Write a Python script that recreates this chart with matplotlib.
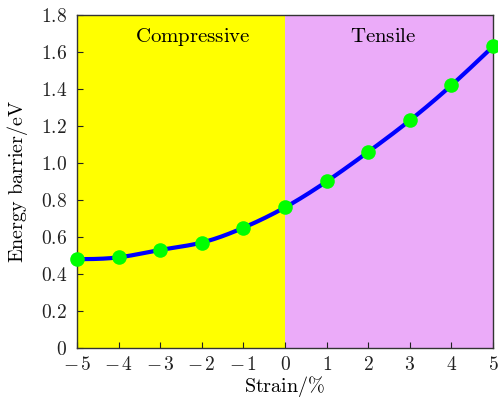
import numpy as np
import matplotlib
matplotlib.use("Agg")
import matplotlib.pyplot as plt

plt.rcParams["mathtext.fontset"] = "cm"
plt.rcParams["font.family"] = "serif"
plt.rcParams["font.serif"] = ["cmr10", "DejaVu Serif"]
plt.rcParams["axes.formatter.use_mathtext"] = True

strain = [-5, -4, -3, -2, -1, 0, 1, 2, 3, 4, 5]
barrier = [0.48, 0.49, 0.53, 0.57, 0.65, 0.76, 0.90, 1.06, 1.23, 1.42, 1.63]
x_ticks = [-5, -4, -3, -2, -1, 0, 1, 2, 3, 4, 5]
y_ticks = [0, 0.2, 0.4, 0.6, 0.8, 1.0, 1.2, 1.4, 1.6, 1.8]


def natural_spline(x, y, xs):
    x = np.asarray(x, float)
    y = np.asarray(y, float)
    n = len(x)
    h = np.diff(x)
    A = np.zeros((n, n))
    b = np.zeros(n)
    A[0, 0] = A[-1, -1] = 1
    for i in range(1, n - 1):
        A[i, i - 1] = h[i - 1]
        A[i, i] = 2 * (h[i - 1] + h[i])
        A[i, i + 1] = h[i]
        b[i] = 3 * ((y[i + 1] - y[i]) / h[i] - (y[i] - y[i - 1]) / h[i - 1])
    c = np.linalg.solve(A, b)
    bb = (y[1:] - y[:-1]) / h - h * (2 * c[:-1] + c[1:]) / 3
    d = (c[1:] - c[:-1]) / (3 * h)
    idx = np.clip(np.searchsorted(x, xs) - 1, 0, n - 2)
    t = xs - x[idx]
    return y[idx] + bb[idx] * t + c[idx] * t ** 2 + d[idx] * t ** 3


fig = plt.figure(figsize=(4.98, 4.01), dpi=100)
ax = fig.add_axes([0.1546, 0.1322, 0.8354, 0.8304])

ax.axvspan(-5, 0, color="#FFFF00", lw=0, zorder=0)
ax.axvspan(0, 5, color="#EBABF9", lw=0, zorder=0)

xs = np.linspace(strain[0], strain[-1], 400)
ax.plot(xs, natural_spline(strain, barrier, xs), color="#0000FF", lw=3.0, zorder=2)
ax.plot(strain, barrier, "o", color="#00FF00", ms=10.5, mec="none", zorder=3, clip_on=False)

ax.set_xlim(-5, 5)
ax.set_ylim(0, 1.8)
ax.set_xticks(x_ticks)
ax.set_xticklabels([r"$%d$" % v if v >= 0 else r"$-\,%d$" % abs(v) for v in x_ticks])
ax.set_yticks(y_ticks)
ax.set_yticklabels([r"$0$" if v == 0 else r"$%.1f$" % v for v in y_ticks])
ax.tick_params(axis="both", direction="in", length=4, width=0.8, labelsize=14,
               colors="#222222")
ax.tick_params(axis="x", pad=6)
ax.tick_params(axis="y", pad=7)

for s in ax.spines.values():
    s.set_color("#333333")
    s.set_linewidth(1.0)

ax.set_xlabel(r"$\mathrm{Strain}/\%$", fontsize=14.5, labelpad=0)
ax.set_ylabel(r"$\mathrm{Energy\ barrier/eV}$", fontsize=14.5, labelpad=8)

ax.text(-2.21, 1.68, r"$\mathrm{Compressive}$", ha="center", va="center", fontsize=15)
ax.text(2.36, 1.68, r"$\mathrm{Tensile}$", ha="center", va="center", fontsize=15)

fig.savefig("out.png", dpi=100)
